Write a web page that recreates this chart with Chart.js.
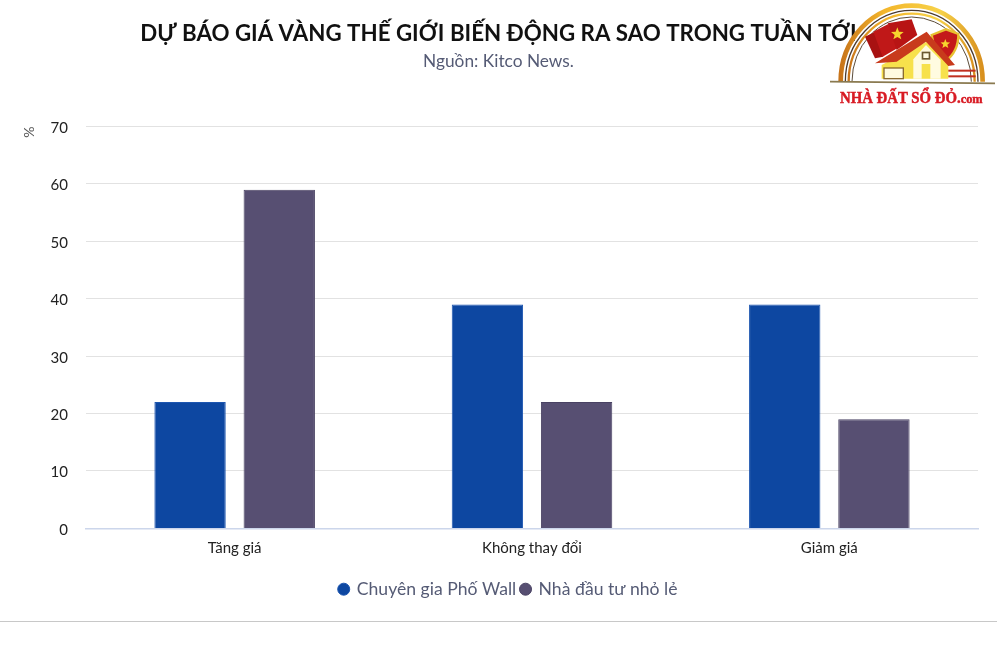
<!DOCTYPE html>
<html>
<head>
<meta charset="utf-8">
<title>Dự báo giá vàng</title>
<script src="https://cdn.jsdelivr.net/npm/chart.js@4"></script>
<style>
    html, body { margin: 0; padding: 0; background: #fff; overflow: hidden; }
    #wrap { position: relative; width: 997px; height: 646px; }
    #myChart { position: absolute; left: 0; top: 0; }
    #rule { position: absolute; left: 0; top: 621px; width: 997px; height: 1px; background: #c8c8c8; }
    #logo { position: absolute; left: 828px; top: 0; }
</style>
</head>
<body>
<div id="wrap">
    <canvas id="myChart" width="997" height="621"></canvas>
    <div id="rule"></div>
    <!-- logo góc phải -->
    <svg id="logo" width="169" height="112" viewBox="0 0 169 112">
        <defs>
            <linearGradient id="gold" x1="0" y1="0" x2="1" y2="0">
                <stop offset="0" stop-color="#c8741a"/>
                <stop offset="0.3" stop-color="#f3b52a"/>
                <stop offset="0.7" stop-color="#f7d24a"/>
                <stop offset="1" stop-color="#d8901e"/>
            </linearGradient>
            <polygon id="star" points="0,-20 5,-7 19,-6 8,3 12,16 0,9 -12,16 -8,3 -19,-6 -5,-7" fill="#f6d52e"/>
        </defs>
        <g transform="translate(-8,0) scale(0.3333)">
            <path d="M62 245 A213 228 0 0 1 488 245" fill="none" stroke="url(#gold)" stroke-width="14"/>
            <path d="M76 245 A199 214 0 0 1 474 245" fill="none" stroke="#4a3a30" stroke-width="4"/>
            <path d="M86 245 A189 204 0 0 1 464 245" fill="none" stroke="url(#gold)" stroke-width="7"/>
            <path d="M96 245 A179 194 0 0 1 454 245" fill="none" stroke="#5a4a38" stroke-width="3"/>
            <path d="M30 245 L525 250" stroke="#8a7a50" stroke-width="5"/>
            <path d="M135 110 L165 95 L190 170 L165 175 Z" fill="#a81212"/>
            <path d="M160 95 L205 72 L232 145 L188 170 Z" fill="#c01818"/>
            <path d="M203 70 L275 58 L292 105 L230 150 Z" fill="#b81414"/>
            <use href="#star" x="232" y="102"/>
            <path d="M335 105 L378 88 L415 102 Q416 155 375 185 L345 150 Z" fill="#c41a1a" stroke="#e8c030" stroke-width="7"/>
            <use href="#star" x="376" y="132" transform="translate(94 33) scale(0.75)"/>
            <path d="M185 195 L320 125 L385 190 L385 236 L185 236 Z" fill="#f7e14c"/>
            <path d="M165 190 L320 95 L405 195 L385 198 L318 125 L230 185 Z" fill="#c83a1c"/>
            <path d="M280 178 L318 135 L362 180 L362 236 L280 236 Z" fill="#fffbe0"/>
            <rect x="305" y="155" width="26" height="24" fill="#6a5a30"/>
            <rect x="310" y="160" width="16" height="14" fill="#fffbe0"/>
            <rect x="305" y="192" width="26" height="44" fill="#f7e14c"/>
            <rect x="192" y="204" width="58" height="32" fill="#fffbe0" stroke="#8a6a30" stroke-width="4"/>
            <rect x="385" y="209" width="82" height="6" fill="#c03020"/>
            <rect x="385" y="226" width="82" height="6" fill="#c03020"/>
            <text x="60" y="308" textLength="428" lengthAdjust="spacingAndGlyphs" font-family="Liberation Serif" font-weight="bold" font-size="48" fill="#d81b24" stroke="#d81b24" stroke-width="1.5">NHÀ ĐẤT SỔ ĐỎ.<tspan font-size="40">com</tspan></text>
        </g>
    </svg>
</div>
<script>
const categories = ['Tăng giá', 'Không thay đổi', 'Giảm giá'];
const chuyenGia = [22, 39, 39];
const nhaDauTu = [59, 22, 19];
const yTicks = [0, 10, 20, 30, 40, 50, 60, 70];
const fontName = 'Lato, "Noto Sans", sans-serif';

// dịch legend sang phải một chút cho giống bản gốc
const legendShift = {
    id: 'legendShift',
    afterLayout(chart) {
        chart.legend.left += 20;
    }
};

const ctx = document.getElementById('myChart').getContext('2d');
const myChart = new Chart(ctx, {
    type: 'bar',
    plugins: [legendShift],
    data: {
        labels: categories,
        datasets: [{
            label: 'Chuyên gia Phố Wall',
            data: chuyenGia,
            backgroundColor: '#0d47a1',
            borderColor: '#1d56b0',
            borderWidth: 1
        }, {
            label: 'Nhà đầu tư nhỏ lẻ',
            data: nhaDauTu,
            backgroundColor: '#574f72',
            borderColor: '#494263',
            borderWidth: 1
        }]
    },
    options: {
        responsive: false,
        animation: false,
        categoryPercentage: 0.6,
        barPercentage: 0.8,
        layout: { padding: { left: 19, right: 19, top: 0, bottom: 13 } },
        plugins: {
            title: {
                display: true,
                text: 'DỰ BÁO GIÁ VÀNG THẾ GIỚI BIẾN ĐỘNG RA SAO TRONG TUẦN TỚI',
                color: '#111',
                font: { family: fontName, size: 22.3, weight: 'bold' },
                padding: { top: 20, bottom: 4 }
            },
            subtitle: {
                display: true,
                text: 'Nguồn: Kitco News.',
                color: '#555b75',
                font: { family: fontName, size: 17.3, weight: 'normal' },
                padding: { bottom: 55 }
            },
            legend: {
                position: 'bottom',
                labels: {
                    usePointStyle: true,
                    boxWidth: 8.5,
                    boxHeight: 8.5,
                    pointStyle: 'circle',
                    padding: 5,
                    color: '#555b75',
                    font: { family: fontName, size: 17.6 }
                }
            },
            tooltip: { enabled: false }
        },
        scales: {
            x: {
                grid: { display: false, drawTicks: false },
                border: { color: '#ccd6eb', width: 1.5 },
                afterFit: (axis) => { axis.height += 7; },
                ticks: {
                    color: '#222',
                    padding: 11,
                    font: { family: fontName, size: 15 },
                    maxRotation: 0
                }
            },
            y: {
                min: 0,
                max: 70,
                afterBuildTicks: (axis) => { axis.ticks = yTicks.map(v => ({ value: v })); },
                afterFit: (axis) => { axis.width = 67; },
                grid: { color: '#e2e2e2', drawTicks: false },
                border: { display: false },
                title: {
                    display: true,
                    text: '%',
                    align: 'end',
                    color: '#555',
                    padding: { top: 2, bottom: 0 },
                    font: { family: fontName, size: 14 }
                },
                ticks: {
                    color: '#222',
                    padding: 18,
                    labelOffset: 1.5,
                    font: { family: fontName, size: 15 }
                }
            }
        }
    }
});
</script>
</body>
</html>
